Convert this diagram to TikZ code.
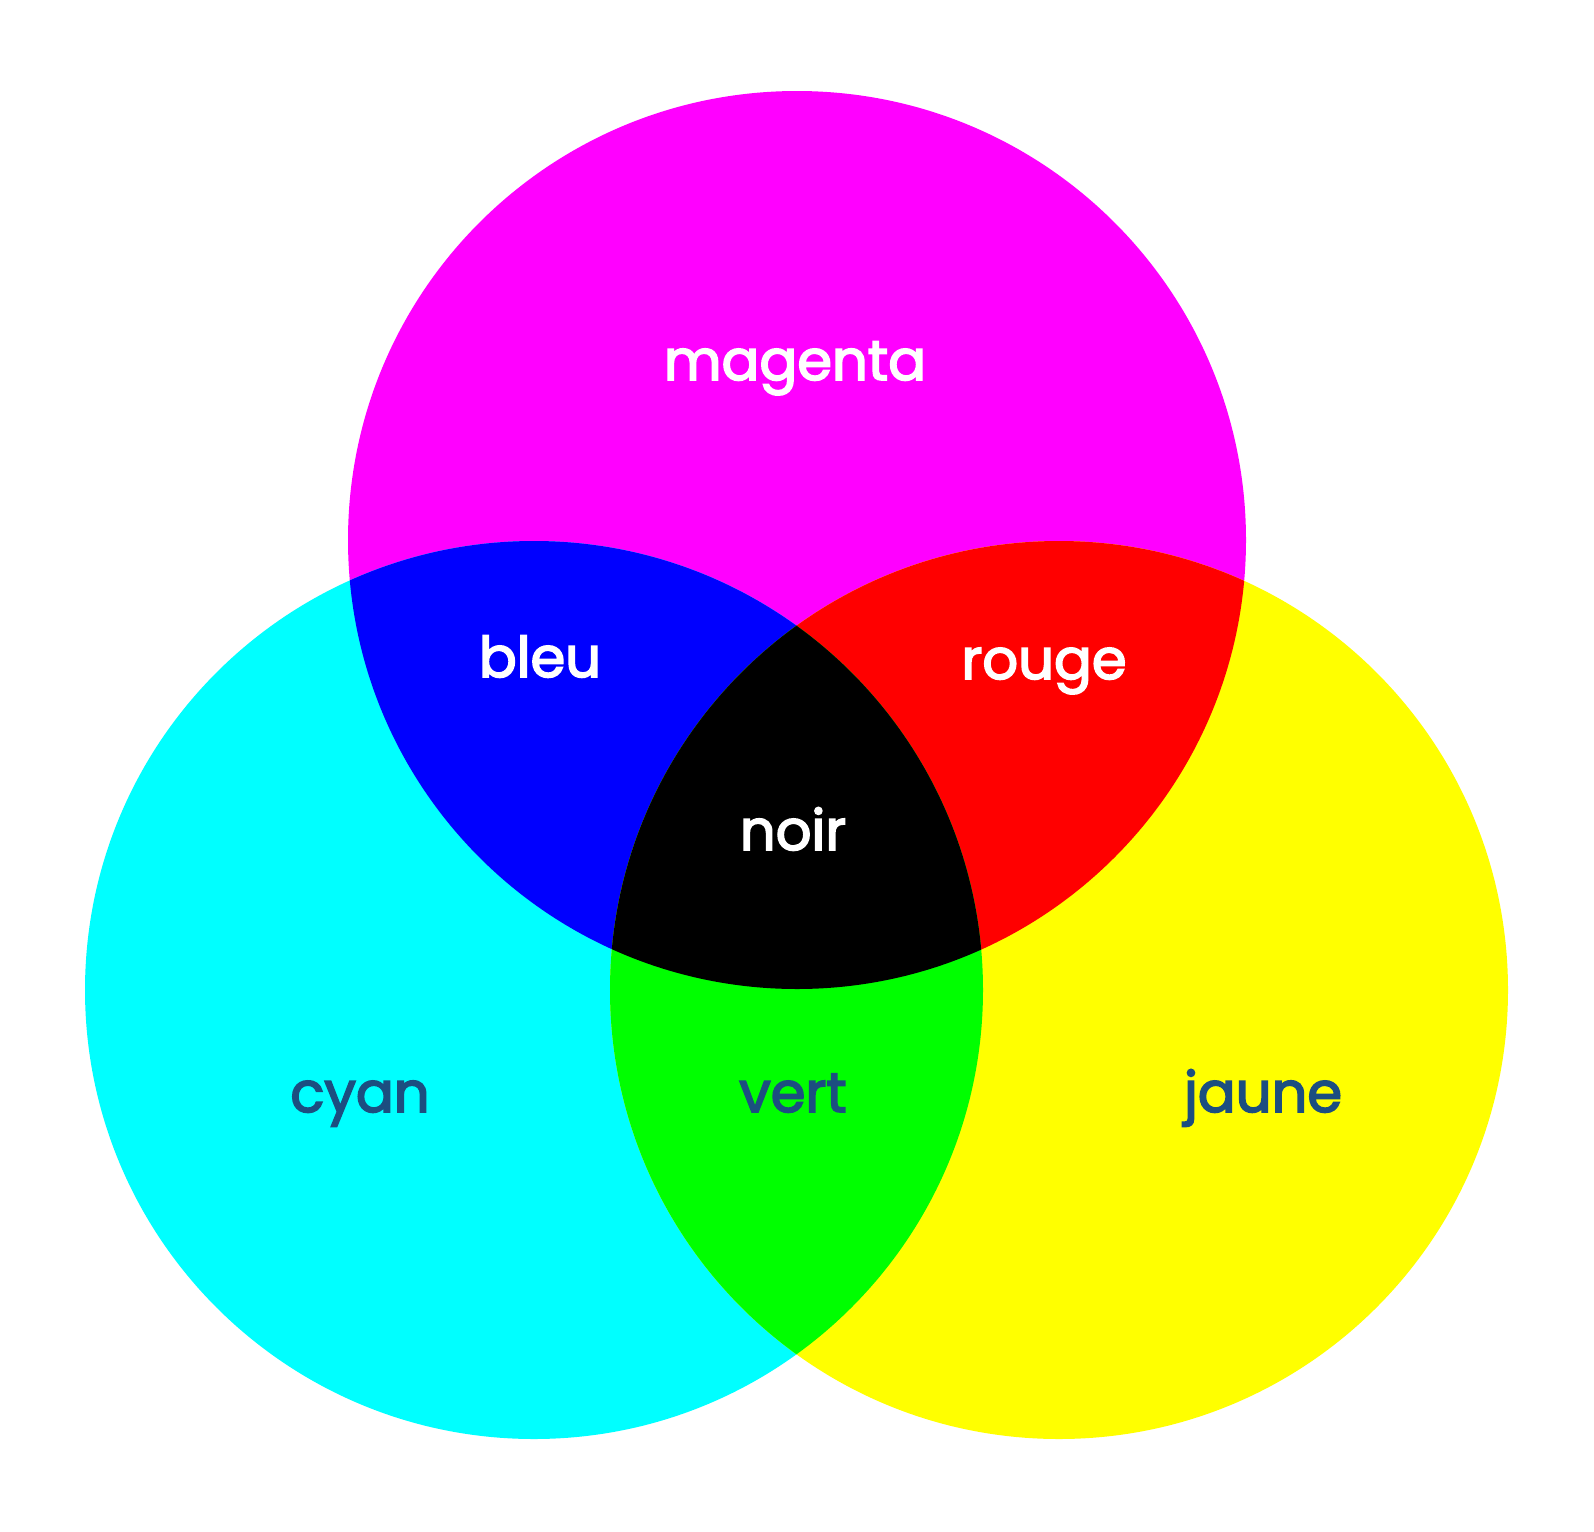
\documentclass[tikz,border=0pt]{standalone}
\usepackage{fontspec}
\setmainfont{Poppins}[FakeBold=3]
\usepackage{xcolor}
\usepackage{tikz}

\definecolor{inkmagenta}{RGB}{255,0,255}
\definecolor{inkcyan}{RGB}{0,255,255}
\definecolor{inkyellow}{RGB}{255,255,0}
\definecolor{inkblue}{RGB}{0,0,255}
\definecolor{inkred}{RGB}{255,0,0}
\definecolor{inkgreen}{RGB}{0,255,0}
\definecolor{labelblue}{RGB}{28,78,128}

\begin{document}
\begin{tikzpicture}[x=0.5pt,y=0.5pt,
	lab/.style={font=\fontsize{28}{34}\selectfont, anchor=base},
	light/.style={lab, text=white},
	dark/.style={lab, text=labelblue}]

\def \r {449}

\useasboundingbox (0,0) rectangle (1594,-1531);

\coordinate (m) at (797,-540);
\coordinate (c) at (534,-990);
\coordinate (y) at (1059,-990);

% the three inks
\fill[inkmagenta] (m) circle (\r);
\fill[inkcyan]    (c) circle (\r);
\fill[inkyellow]  (y) circle (\r);

% two inks
\begin{scope}
	\clip (m) circle (\r);
	\fill[inkblue] (c) circle (\r);
	\fill[inkred]  (y) circle (\r);
\end{scope}
\begin{scope}
	\clip (c) circle (\r);
	\fill[inkgreen] (y) circle (\r);
\end{scope}

% all three
\begin{scope}
	\clip (m) circle (\r);
	\clip (c) circle (\r);
	\fill[black] (y) circle (\r);
\end{scope}

\node[light] (magenta) at (795,-380) {magenta};
\node[light] (bleu)    at (540,-677) {bleu};
\node[light] (rouge)   at (1044,-679) {rouge};
\node[light] (noir)    at (793,-850) {noir};

\node[dark] (cyan)  at (360,-1112) {cyan};
\node[dark] (vert)  at (793,-1112) {vert};
\node[dark] (jaune) at (1263,-1112) {jaune};

\end{tikzpicture}
\end{document}
